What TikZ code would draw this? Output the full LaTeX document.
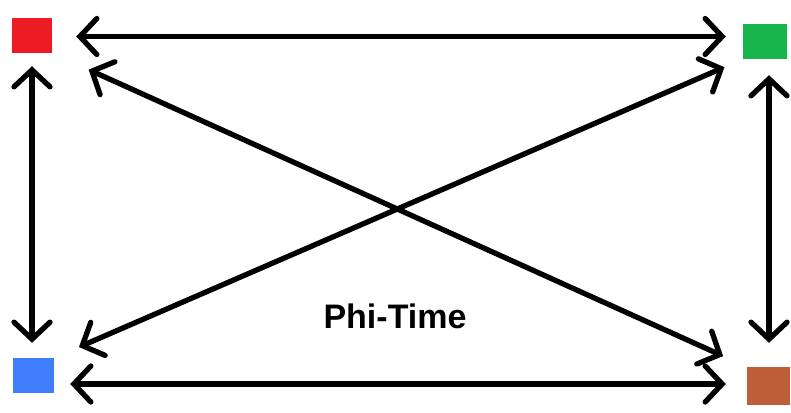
\documentclass[tikz,border=0pt]{standalone}
\usepackage{fontspec}
\setsansfont{Liberation Sans}
\usetikzlibrary{positioning,arrows.meta}

\definecolor{sqred}{RGB}{237,28,36}
\definecolor{sqgreen}{RGB}{24,180,76}
\definecolor{sqblue}{RGB}{63,125,250}
\definecolor{sqbrown}{RGB}{190,95,58}

\begin{document}
\begin{tikzpicture}[x=1pt,y=-1pt,
    square/.style={shape=rectangle,draw=none,inner sep=0pt},
    link/.style={black,line width=5.3pt,line cap=round,
        {Straight Barb[length=17pt,width=36pt,line cap=round]}-{Straight Barb[length=17pt,width=36pt,line cap=round]}}]
    \useasboundingbox (0,0) rectangle (791,412);
    %%%%% THE SQUARES
    \node[square,fill=sqred,minimum width=40pt,minimum height=35pt] (RED) at (32,35.5) {};
    \node[square,fill=sqgreen,minimum width=44pt,minimum height=35pt] (GREEN) at (765,41.5) {};
    \node[square,fill=sqblue,minimum width=41pt,minimum height=35pt] (BLUE) at (33.5,375.5) {};
    \node[square,fill=sqbrown,minimum width=43pt,minimum height=38pt] (BROWN) at (768.5,386) {};
    %%%%% THE LABEL
    \node[font=\sffamily\bfseries\fontsize{34}{37}\selectfont] (PHI) at (395,316) {Phi-Time};
    %%%%% LINKS BETWEEN THE SQUARES
    \draw[link,shorten <=24pt,shorten >=17pt] ([yshift=-1pt]RED.east) -- ([yshift=-1pt]RED.east -| GREEN.west);
    \draw[link,shorten <=16pt,shorten >=21pt] ([yshift=2pt]BROWN.west -| BLUE.east) -- ([yshift=2pt]BROWN.west);
    \draw[link,shorten <=13pt,shorten >=15pt] (RED.south) -- (RED.south |- BLUE.north);
    \draw[link,shorten <=16pt,shorten >=24pt] ([xshift=4pt]GREEN.south) -- ([xshift=4pt]GREEN.south |- BROWN.north);
    \draw[link,shorten <=40pt,shorten >=26pt] (RED.south east) -- (BROWN.north west);
    \draw[link,shorten <=27pt,shorten >=20pt] (BLUE.north east) -- (GREEN.south west);
\end{tikzpicture}
\end{document}
